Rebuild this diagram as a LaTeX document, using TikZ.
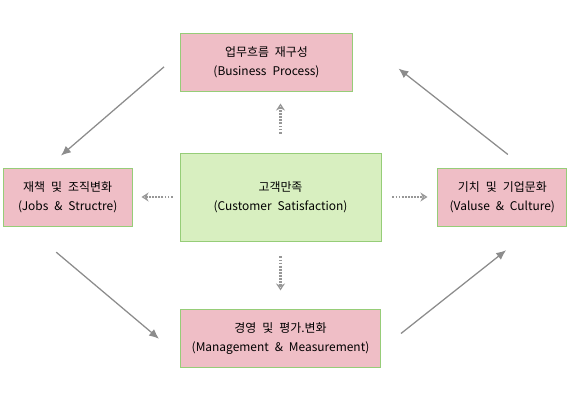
\documentclass[tikz,border=0pt]{standalone}
\usepackage{fontspec}
\setmainfont{Noto Sans CJK KR}
\usepackage{xcolor}
\usepackage{tikz}
\usetikzlibrary{calc}
\usetikzlibrary{arrows.meta, positioning}

\definecolor{boxpink}{RGB}{239,190,198}
\definecolor{boxgreen}{RGB}{216,239,192}
\definecolor{edgegreen}{RGB}{150,205,120}
\definecolor{flowgray}{RGB}{140,140,140}
\newcommand\boxfont{\fontsize{8.5}{13.5}\selectfont\spaceskip=0.5em\relax}

\begin{document}
\begin{tikzpicture}[
  node distance=12mm,
  >=Latex,
  box/.style={draw=edgegreen, fill=boxpink, line width=0.6pt, align=center, minimum height=1.45cm, inner sep=2pt, font=\boxfont},
  hub/.style={box, fill=boxgreen, minimum width=5.025cm, minimum height=2.2cm},
  arrow/.style={-{Latex[length=7pt,width=6pt]}, line width=0.9pt, draw=flowgray},
  dotarrow/.style={-{Stealth[open,length=5pt,width=6.5pt,line width=0.9pt]}, line width=1.7pt, dash pattern=on 1.3pt off 0.9pt, draw=flowgray!90}
]
\useasboundingbox (0,0) rectangle (14.25,10);

\node[hub] (cust) at (7.0125,5.075) {고객만족\\(Customer Satisfaction)};

\node[box, minimum width=4.3cm, above=1.525cm of cust, xshift=-0.35cm] (proc) {업무흐름 재구성\\(Business Process)};
\node[box, minimum width=3.225cm, left=1.175cm of cust] (jobs) {재책 및 조직변화\\(Jobs \& Structre)};
\node[box, minimum width=3.225cm, right=1.4cm of cust] (value) {기치 및 기업문화\\(Valuse \& Culture)};
\node[box, minimum width=5cm, below=1.7cm of cust] (mgmt) {경영 및 평가.변화\\(Management \& Measurement)};

% cycle
\draw[arrow, shorten <=0.53cm, shorten >=0.46cm] (proc.174) -- (jobs.125);
\draw[arrow, shorten <=1cm, shorten >=0.69cm] (jobs.-145) -- (mgmt.190);
\draw[arrow, shorten <=0.64cm, shorten >=0.96cm] (mgmt.-6) -- (value.-41);
\draw[arrow, shorten <=0.53cm, shorten >=1.45cm] (value.53) -- (proc.north east);

% from the hub
\draw[dotarrow, shorten <=0.475cm, shorten >=0.3cm] (cust.north) -- (cust.north |- proc.south);
\draw[dotarrow, shorten <=0.375cm, shorten >=0.475cm] (cust.south) -- (cust.south |- mgmt.north);
\draw[dotarrow, shorten <=0.175cm, shorten >=0.225cm] (cust.west) -- (jobs.east);
\draw[dotarrow, shorten <=0.275cm, shorten >=0.25cm] (cust.east) -- (value.west);

\end{tikzpicture}
\end{document}
